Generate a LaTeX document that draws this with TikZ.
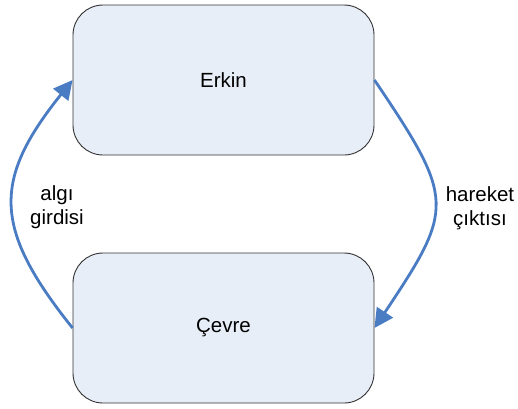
\documentclass[tikz,border=0pt]{standalone}
\usepackage{fontspec}
\setmainfont{Liberation Sans}
\usetikzlibrary{arrows.meta}
\definecolor{boxfill}{RGB}{232,238,248}
\definecolor{boxline}{RGB}{50,50,50}
\definecolor{flow}{RGB}{74,124,196}
\begin{document}
\begin{tikzpicture}[x=1pt,y=-1pt,
  stage/.style={draw=boxline, line width=0.9pt, fill=boxfill, rounded corners=30pt,
    minimum width=301pt, minimum height=150pt, inner sep=0pt,
    font=\fontsize{20.5}{23.5}\selectfont},
  flowarrow/.style={draw=flow, line width=2.8pt,
    -{Triangle[length=19pt,width=19pt]}},
  caption/.style={align=center, font=\fontsize{20.5}{23.5}\selectfont}]
  \useasboundingbox (0,0) rectangle (518,408);
  \node[stage] (erkin) at (223.5,80) {Erkin};
  \node[stage] (cevre) at (223.5,328) {Çevre};
  \draw[flowarrow] (cevre.west) .. controls +(-80,-100) and +(-80,100) .. (erkin.west);
  \draw[flowarrow] (erkin.east) .. controls +(81,120) and +(80,-120) .. (cevre.east);
  \node[caption] (algi) at (57,207) {algı\\girdisi};
  \node[caption] (hareket) at (480,208) {hareket\\çıktısı};
\end{tikzpicture}
\end{document}
